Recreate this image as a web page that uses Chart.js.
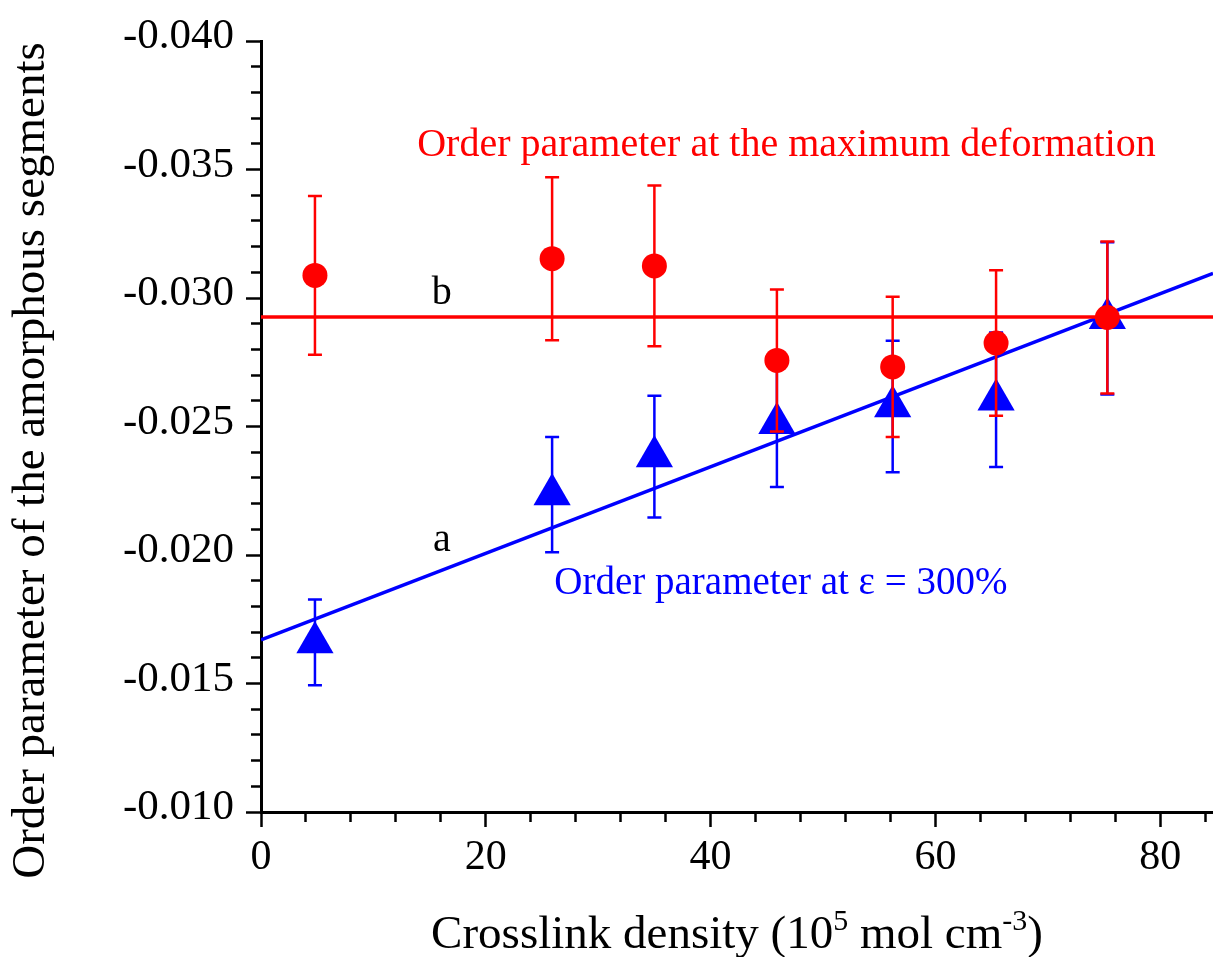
<!DOCTYPE html>
<html>
<head>
<meta charset="utf-8">
<title>Order parameter vs crosslink density</title>
<script src="https://cdn.jsdelivr.net/npm/chart.js@4.4.1/dist/chart.umd.min.js"></script>
<style>
    html, body { margin: 0; padding: 0; background: #fff; }
    #wrap { width: 1213px; height: 957px; position: relative; }
</style>
</head>
<body>
<div id="wrap"><canvas id="orderChart"></canvas></div>
<script>
// Du lieu doc tu hinh
const crosslink = [4.8, 25.9, 35.0, 45.9, 56.2, 65.4, 75.3];
const orderMaxDef = [-0.03088, -0.03153, -0.03125, -0.02757, -0.02732, -0.02825, -0.02924];
const orderMaxDefErr = [0.00309, 0.00317, 0.00313, 0.00276, 0.00273, 0.00283, 0.00296];
const order300 = [-0.01660, -0.02235, -0.02383, -0.02513, -0.02578, -0.02604, -0.02921];
const order300Err = [0.00167, 0.00224, 0.00237, 0.00248, 0.00256, 0.00262, 0.00296];

// duong b (ngang) va duong a (khop tuyen tinh)
const lineBx = [0, 84.7];
const lineBy = [-0.02926, -0.02926];
const lineAx = [0, 84.7];
const lineAy = [-0.01670, -0.03096];

// vach chia truc
const xMajorTicks = [0, 20, 40, 60, 80];
const yMajorTicks = [-0.040, -0.035, -0.030, -0.025, -0.020, -0.015, -0.010];
const xMinorStep = 4;
const yMinorStep = 0.001;

const FONT = "'Liberation Serif', 'Times New Roman', serif";

function isMajor(list, v) {
    return list.some(m => Math.abs(m - v) < 1e-9);
}

function allTicks(min, max, step) {
    const out = [];
    const n = Math.round((max - min) / step);
    for (let i = 0; i <= n; i++) out.push({ value: +(min + i * step).toFixed(6) });
    return out;
}

function toPoints(xs, ys) {
    return xs.map((x, i) => ({ x: x, y: ys[i] }));
}

// Thanh sai so
const errorBars = {
    id: 'errorBars',
    beforeDatasetDraw(chart, args) {
        const ds = chart.data.datasets[args.index];
        if (!ds.errors) return;
        const { ctx } = chart;
        const x = chart.scales.x, y = chart.scales.y;
        ctx.save();
        ctx.strokeStyle = ds.errorColor;
        ctx.lineWidth = 2.5;
        ds.data.forEach((p, i) => {
            const px = x.getPixelForValue(p.x);
            const top = y.getPixelForValue(p.y - ds.errors[i]);
            const bot = y.getPixelForValue(p.y + ds.errors[i]);
            ctx.beginPath();
            ctx.moveTo(px, top); ctx.lineTo(px, bot);
            ctx.moveTo(px - 7, top); ctx.lineTo(px + 7, top);
            ctx.moveTo(px - 7, bot); ctx.lineTo(px + 7, bot);
            ctx.stroke();
        });
        ctx.restore();
    }
};

// Chu thich tren bieu do
const notes = [
    { text: 'Order parameter at the maximum deformation', x: 13.9, y: -0.03553, color: '#ff0000', size: 40 },
    { text: 'b', x: 15.2, y: -0.02978, color: '#000000', size: 40 },
    { text: 'a', x: 15.3, y: -0.02016, color: '#000000', size: 40 },
    { text: 'Order parameter at \u03b5 = 300%', x: 26.1, y: -0.01850, color: '#0000ff', size: 39 }
];

const annotations = {
    id: 'annotations',
    afterDatasetsDraw(chart) {
        const { ctx } = chart;
        const x = chart.scales.x, y = chart.scales.y;
        ctx.save();
        ctx.textAlign = 'left';
        ctx.textBaseline = 'alphabetic';
        notes.forEach(n => {
            ctx.font = n.size + 'px ' + FONT;
            ctx.fillStyle = n.color;
            ctx.fillText(n.text, x.getPixelForValue(n.x), y.getPixelForValue(n.y));
        });
        ctx.restore();
    },
    afterDraw(chart) {
        const { ctx, chartArea } = chart;
        ctx.save();
        ctx.fillStyle = '#000';
        ctx.textBaseline = 'alphabetic';

        // tieu de truc x co chi so tren
        const parts = [
            ['Crosslink density (10', 47, 0],
            ['5', 30, -18],
            [' mol cm', 47, 0],
            ['-3', 30, -18],
            [')', 47, 0]
        ];
        let total = 0;
        parts.forEach(p => { ctx.font = p[1] + 'px ' + FONT; total += ctx.measureText(p[0]).width; });
        let cx = (chartArea.left + chartArea.right) / 2 - total / 2;
        parts.forEach(p => {
            ctx.font = p[1] + 'px ' + FONT;
            ctx.fillText(p[0], cx, 948 + p[2]);
            cx += ctx.measureText(p[0]).width;
        });

        // tieu de truc y
        ctx.font = '47px ' + FONT;
        ctx.textAlign = 'center';
        ctx.translate(44, (chartArea.top + chartArea.bottom) / 2 + 34);
        ctx.rotate(-Math.PI / 2);
        ctx.fillText('Order parameter of the amorphous segments', 0, 0);
        ctx.restore();
    }
};

const ctx = document.getElementById('orderChart').getContext('2d');

new Chart(ctx, {
    type: 'scatter',
    data: {
        datasets: [{
            label: 'Order parameter at the maximum deformation',
            data: toPoints(crosslink, orderMaxDef),
            errors: orderMaxDefErr,
            errorColor: '#ff0000',
            pointStyle: 'circle',
            pointRadius: 12.5,
            backgroundColor: '#ff0000',
            borderWidth: 0,
            order: 0
        }, {
            label: 'b',
            data: toPoints(lineBx, lineBy),
            showLine: true,
            borderColor: '#ff0000',
            borderWidth: 3.5,
            pointRadius: 0,
            order: 1
        }, {
            label: 'Order parameter at \u03b5 = 300%',
            data: toPoints(crosslink, order300),
            errors: order300Err,
            errorColor: '#0000ff',
            pointStyle: 'triangle',
            pointRadius: 21.5,
            backgroundColor: '#0000ff',
            borderWidth: 0,
            order: 2
        }, {
            label: 'a',
            data: toPoints(lineAx, lineAy),
            showLine: true,
            borderColor: '#0000ff',
            borderWidth: 3.5,
            pointRadius: 0,
            order: 3
        }]
    },
    options: {
        responsive: true,
        maintainAspectRatio: false,
        animation: false,
        events: [],
        layout: { autoPadding: false, padding: { top: 41, right: 0, bottom: 0, left: 0 } },
        plugins: {
            legend: { display: false },
            tooltip: { enabled: false }
        },
        scales: {
            x: {
                type: 'linear',
                min: 0,
                max: 84.7,
                afterBuildTicks: s => { s.ticks = allTicks(0, 84, xMinorStep); },
                afterFit: s => { s.height = 145; s.paddingRight = 0; s.paddingLeft = 0; },
                border: { display: true, color: '#000', width: 3 },
                grid: {
                    drawOnChartArea: false,
                    drawTicks: true,
                    tickLength: 15,
                    tickWidth: 2.5,
                    tickColor: '#000',
                    tickBorderDash: c => (c.tick && !isMajor(xMajorTicks, c.tick.value)) ? [8, 100] : []
                },
                ticks: {
                    autoSkip: false,
                    maxRotation: 0,
                    padding: 6,
                    color: '#000',
                    font: { family: FONT, size: 42 },
                    callback: v => isMajor(xMajorTicks, v) ? String(v) : ''
                }
            },
            y: {
                type: 'linear',
                reverse: true,
                min: -0.040,
                max: -0.010,
                afterBuildTicks: s => { s.ticks = allTicks(-0.040, -0.010, yMinorStep); },
                afterFit: s => { s.width = 261; },
                border: { display: true, color: '#000', width: 3 },
                grid: {
                    drawOnChartArea: false,
                    drawTicks: true,
                    tickLength: 15,
                    tickWidth: 2.5,
                    tickColor: '#000',
                    tickBorderDash: c => (c.tick && !isMajor(yMajorTicks, c.tick.value)) ? [0, 5, 20, 100] : []
                },
                ticks: {
                    autoSkip: false,
                    padding: 12,
                    labelOffset: -4,
                    color: '#000',
                    font: { family: FONT, size: 43 },
                    callback: v => isMajor(yMajorTicks, v) ? v.toFixed(3) : ''
                }
            }
        }
    },
    plugins: [errorBars, annotations]
});
</script>
</body>
</html>
